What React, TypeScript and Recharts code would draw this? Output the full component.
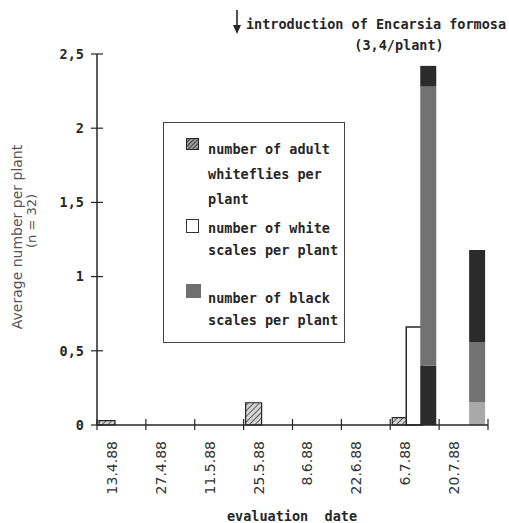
import { BarChart, Bar, XAxis, YAxis, Cell } from "recharts";

const dates = ["13.4.88", "27.4.88", "11.5.88", "25.5.88", "8.6.88", "22.6.88", "6.7.88", "20.7.88"];
const adults = [0.03, 0, 0, 0.15, 0, 0, 0.05, 0];
const whiteScales = [0, 0, 0, 0, 0, 0, 0.66, 0];
// black scales, drawn in three shaded parts from the bottom up
const blackBottom = [0, 0, 0, 0, 0, 0, 0.4, 0.155];
const blackMiddle = [0, 0, 0, 0, 0, 0, 1.88, 0.405];
const blackTop = [0, 0, 0, 0, 0, 0, 0.14, 0.62];
const yTicks = [0, 0.5, 1, 1.5, 2, 2.5];

const data = dates.map((date, i) => ({
  date,
  adults: adults[i],
  white: whiteScales[i],
  blackBottom: blackBottom[i],
  blackMiddle: blackMiddle[i],
  blackTop: blackTop[i],
}));

const W = 509;
const H = 523;
const PLOT_LEFT = 97;
const PLOT_RIGHT = 488;
const BAND = (PLOT_RIGHT - PLOT_LEFT) / dates.length;

const MONO = "'DejaVu Sans Mono', monospace";
const SANS = "'DejaVu Sans', sans-serif";
const INK = "#262626";

const bottomShade = ["#2b2b2b", "#2b2b2b", "#2b2b2b", "#2b2b2b", "#2b2b2b", "#2b2b2b", "#2b2b2b", "#a9a9a9"];

const fmt = (v: number) => String(v).replace(".", ",");

const YTick = ({ x, y, payload }: any) => (
  <g>
    <line x1={x - 6} x2={x + 6} y1={y} y2={y} stroke={INK} strokeWidth={1.2} />
    <text x={x - 13} y={y} dy="0.36em" textAnchor="end" fontFamily={MONO} fontWeight="bold" fontSize={13.5} fill={INK}>
      {fmt(payload.value)}
    </text>
  </g>
);

const XTick = ({ x, y, payload, index }: any) => {
  const left = x - BAND / 2;
  return (
    <g>
      <line x1={left} x2={left} y1={y - 6} y2={y + 5} stroke={INK} strokeWidth={1.2} />
      {index === dates.length - 1 && (
        <line x1={x + BAND / 2} x2={x + BAND / 2} y1={y - 6} y2={y + 5} stroke={INK} strokeWidth={1.2} />
      )}
      <text
        transform={`translate(${x - 9.5},${y + 16}) rotate(-90)`}
        textAnchor="end"
        dominantBaseline="central"
        fontFamily={SANS}
        fontSize={14}
        fill="#333"
      >
        {payload.value}
      </text>
    </g>
  );
};

function LegendBox() {
  const txt: React.CSSProperties = {
    position: "absolute",
    left: 44,
    fontFamily: MONO,
    fontWeight: "bold",
    fontSize: 13.5,
    color: INK,
    whiteSpace: "pre",
  };
  const icon: React.CSSProperties = { position: "absolute", left: 22, width: 13, height: 12, boxSizing: "border-box" };
  return (
    <div
      style={{
        position: "absolute",
        left: 163,
        top: 122,
        width: 182,
        height: 221,
        border: "1.5px solid #444",
        boxSizing: "border-box",
        background: "#fff",
      }}
    >
      <svg style={{ ...icon, top: 15 }} width={13} height={12}>
        <rect x={0.5} y={0.5} width={12} height={11} fill="url(#hatchDark)" stroke={INK} />
      </svg>
      <div style={{ ...txt, top: 14, lineHeight: "25px" }}>{"number of adult\nwhiteflies per\nplant"}</div>
      <div style={{ ...icon, top: 96, height: 14, border: "1.5px solid #333", background: "#fff" }} />
      <div style={{ ...txt, top: 94, lineHeight: "22px" }}>{"number of white\nscales per plant"}</div>
      <div style={{ ...icon, top: 161, width: 15, height: 14, background: "#6f6f6f" }} />
      <div style={{ ...txt, top: 164, lineHeight: "22px" }}>{"number of black\nscales per plant"}</div>
    </div>
  );
}

export default function App() {
  return (
    <div style={{ position: "absolute", left: 0, top: 0, width: W, height: H, background: "#fff" }}>
      <svg width={0} height={0} style={{ position: "absolute" }}>
        <defs>
          <pattern id="hatch" width={4} height={4} patternUnits="userSpaceOnUse" patternTransform="rotate(45)">
            <rect width={4} height={4} fill="#d6d6d6" />
            <line x1={0} y1={0} x2={0} y2={4} stroke="#3a3a3a" strokeWidth={1.6} />
          </pattern>
          <pattern id="hatchDark" width={3} height={3} patternUnits="userSpaceOnUse" patternTransform="rotate(45)">
            <rect width={3} height={3} fill="#9a9a9a" />
            <line x1={0} y1={0} x2={0} y2={3} stroke="#222" strokeWidth={1.5} />
          </pattern>
        </defs>
      </svg>
      <BarChart
        width={W}
        height={H}
        data={data}
        margin={{ top: 54, right: W - PLOT_RIGHT, bottom: 0, left: 0 }}
        barGap={-2}
      >
        <XAxis
          dataKey="date"
          height={H - 425}
          interval={0}
          tickSize={0}
          tickMargin={0}
          tickLine={false}
          axisLine={{ stroke: INK, strokeWidth: 1.5 }}
          tick={<XTick />}
        />
        <YAxis
          width={PLOT_LEFT}
          domain={[0, 2.5]}
          ticks={yTicks}
          interval={0}
          tickSize={0}
          tickMargin={0}
          tickLine={false}
          axisLine={{ stroke: INK, strokeWidth: 1.5 }}
          tick={<YTick />}
        />
        <Bar dataKey="adults" stackId="adults" barSize={16} fill="url(#hatch)" stroke={INK} strokeWidth={1.2} isAnimationActive={false} />
        <Bar dataKey="white" stackId="white" barSize={16} fill="#fff" stroke={INK} strokeWidth={1.5} isAnimationActive={false} />
        <Bar dataKey="blackBottom" stackId="black" barSize={16} isAnimationActive={false}>
          {data.map((_, i) => (
            <Cell key={i} fill={bottomShade[i]} />
          ))}
        </Bar>
        <Bar dataKey="blackMiddle" stackId="black" barSize={16} fill="#727272" isAnimationActive={false} />
        <Bar dataKey="blackTop" stackId="black" barSize={16} fill="#2b2b2b" isAnimationActive={false} />
      </BarChart>
      <svg width={W} height={H} style={{ position: "absolute", left: 0, top: 0, pointerEvents: "none" }}>
        <text x={376} y={29} textAnchor="middle" fontFamily={MONO} fontWeight="bold" fontSize={13.5} fill={INK}>
          introduction of Encarsia formosa
        </text>
        <text x={399} y={50} textAnchor="middle" fontFamily={MONO} fontWeight="bold" fontSize={13.5} fill={INK}>
          (3,4/plant)
        </text>
        <line x1={237} y1={10} x2={237} y2={30} stroke={INK} strokeWidth={1.6} />
        <path d="M233,25 L237,34 L241,25 Z" fill={INK} />
        <text transform="translate(22,237) rotate(-90)" textAnchor="middle" fontFamily={SANS} fontSize={14} fill="#555">
          Average number per plant
        </text>
        <text transform="translate(36,221) rotate(-90)" textAnchor="middle" fontFamily={SANS} fontSize={13} fill="#555">
          (n = 32)
        </text>
        <text x={292} y={521} textAnchor="middle" fontFamily={MONO} fontWeight="bold" fontSize={13.5} fill={INK} style={{ whiteSpace: "pre" }}>
          evaluation  date
        </text>
      </svg>
      <LegendBox />
    </div>
  );
}
